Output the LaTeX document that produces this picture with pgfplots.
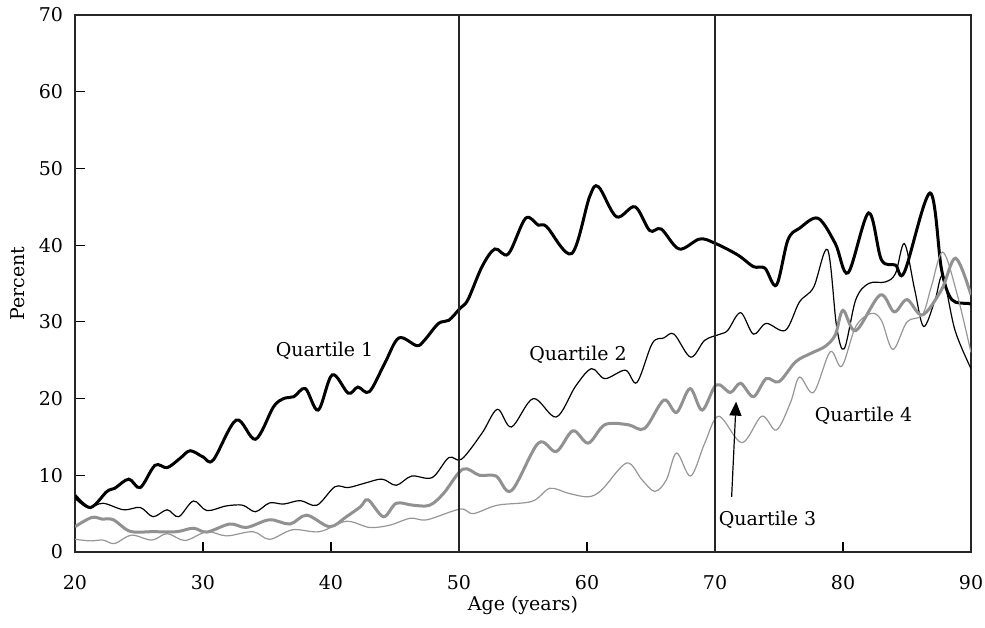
\documentclass[border=0pt]{standalone}
\usepackage{pgfplots}
\pgfplotsset{compat=1.18}
\usepackage{fontspec}
\setmainfont{DejaVu Serif}
\usetikzlibrary{arrows.meta}
\definecolor{qthree}{RGB}{145,145,145}
\definecolor{qfour}{RGB}{150,150,150}
\begin{document}
\fontsize{9.5pt}{11pt}\selectfont
\begin{tikzpicture}
\begin{axis}[
  scale only axis,
  width=448pt, height=268.5pt,
  xmin=20, xmax=90, ymin=0, ymax=70,
  xtick={20,30,...,90}, ytick={0,10,...,70},
  xtick pos=bottom, ytick pos=left,
  tick align=inside,
  major tick length=5pt,
  every tick/.style={black, line width=0.6pt},
  axis line style={draw=black!85, line width=0.7pt},
  /pgf/number format/assume math mode=true,
  yticklabel style={xshift=-2.6pt},
  xticklabel style={yshift=-8.3pt},
  xlabel={Age (years)},
  ylabel={Percent},
  xlabel style={at={(axis description cs:0.5,-0.0987)}, anchor=center},
  ylabel style={at={(axis description cs:-0.0636,0.5)}, anchor=center},
  clip=true,
]
% Quartile 1
\addplot[black, line width=1.5pt, smooth, tension=0.55] coordinates {
(20,7.4) (21.2,5.8) (22.5,7.9) (23.1,8.3) (24.2,9.5) (25.1,8.4) (26.25,11.3) (27.2,11.0) (28.2,12.2) (29.0,13.2) (30.0,12.4) (30.8,12.0) (32.6,17.2) (34.1,14.7) (35.5,18.9) (36.3,20.0) (37.1,20.25) (38.0,21.3) (39.0,18.5) (40.1,23.1) (41.35,20.7) (42.1,21.5) (43.0,20.9) (44.2,24.6) (45.3,27.9) (46.7,26.9) (47.3,27.6) (48.4,29.8) (49.2,30.2) (50.1,31.8) (50.7,32.9) (51.8,37.2) (52.8,39.5) (53.85,38.85) (55.2,43.5) (56.2,42.6) (56.85,42.4) (58.8,38.9) (60.2,46.3) (60.9,47.6) (62.3,43.7) (63.75,45.0) (64.9,41.9) (65.8,42.1) (67.2,39.5) (68.8,40.8) (70.0,40.25) (71.8,38.7) (73.0,37.2) (73.9,37.0) (74.8,34.8) (75.7,40.7) (76.6,42.2) (78.05,43.5) (79.4,40.2) (80.4,36.4) (82.0,44.2) (83.0,38.1) (84.1,37.4) (84.8,36.5) (86.8,46.8) (87.7,36.8) (88.5,32.9) (89.8,32.4) (90,32.3)
};
% Quartile 2
\addplot[black, line width=0.6pt, smooth, tension=0.55] coordinates {
(20,7.0) (21.0,5.8) (22.2,6.35) (23.8,5.5) (25.1,5.8) (26.1,4.6) (27.2,5.5) (28.1,4.6) (29.25,6.65) (30.3,5.4) (31.8,6.0) (33.1,6.1) (34.1,5.25) (35.2,6.4) (36.3,6.25) (37.6,6.7) (38.9,6.1) (40.3,8.5) (41.35,8.4) (42.7,9.0) (44.0,9.5) (45.1,8.7) (46.3,9.9) (47.9,9.7) (49.2,12.3) (50.2,12.1) (51.8,15.5) (53.0,18.6) (54.1,16.3) (55.8,20.0) (57.6,17.6) (59.1,21.6) (60.35,23.9) (61.4,22.6) (63.0,23.7) (63.9,22.1) (65.1,27.2) (66.0,27.9) (66.8,28.4) (68.1,25.4) (69.2,27.6) (70.4,28.4) (71.0,28.9) (72.0,31.2) (73.0,28.4) (74.0,29.8) (75.5,28.9) (76.6,32.6) (77.7,34.5) (78.8,39.4) (79.5,29.4) (80.1,26.5) (81.0,32.9) (82.0,35.0) (83.3,35.2) (84.1,36.3) (84.8,40.2) (85.6,34.2) (86.3,29.4) (87.2,32.9) (87.8,35.9) (88.75,28.9) (90,23.9)
};
% Quartile 3
\addplot[qthree, line width=1.5pt, smooth, tension=0.55] coordinates {
(20,3.3) (21.3,4.5) (22.1,4.3) (23.0,4.2) (24.3,2.7) (26.1,2.65) (27.95,2.65) (29.25,3.1) (30.3,2.6) (32.1,3.65) (33.4,3.2) (35.2,4.2) (36.8,3.65) (38.1,4.8) (39.9,3.3) (41.2,4.6) (42.3,5.9) (42.9,6.8) (44.1,4.6) (45.1,6.35) (46.4,6.1) (47.7,6.1) (48.8,7.65) (50.3,10.8) (51.6,10.0) (52.9,9.9) (54.1,8.0) (56.2,14.2) (57.6,13.1) (58.9,15.8) (60.1,14.2) (61.4,16.6) (63.2,16.6) (64.5,16.1) (66.0,19.8) (67.0,18.2) (68.05,21.3) (69.0,18.5) (70.1,21.8) (71.2,20.8) (72.0,22.0) (73.0,20.25) (74.0,22.6) (75.0,22.2) (76.3,24.8) (77.5,25.9) (78.6,26.8) (79.4,28.3) (80.0,31.5) (81.0,28.85) (82.9,33.5) (84.0,31.3) (85.0,32.9) (86.2,30.9) (87.7,34.2) (88.8,38.3) (90,33.5)
};
% Quartile 4
\addplot[qfour, line width=0.6pt, smooth, tension=0.55] coordinates {
(20,1.65) (21.2,1.45) (22.2,1.55) (23.1,1.1) (24.4,2.2) (26.0,1.55) (27.2,2.4) (28.6,1.5) (30.3,2.65) (31.85,2.1) (33.9,2.65) (35.2,1.65) (37.0,2.9) (39.1,2.65) (41.2,4.0) (43.0,3.2) (44.6,3.5) (46.2,4.4) (47.5,4.2) (50.1,5.6) (51.1,5.0) (53.0,6.1) (55.7,6.6) (57.1,8.3) (58.55,7.65) (60.1,7.2) (61.15,8.1) (63.1,11.6) (64.3,9.4) (65.3,7.9) (66.2,9.4) (67.0,12.9) (68.1,9.9) (69.2,14.2) (70.3,17.7) (72.1,14.25) (73.65,17.7) (74.8,15.9) (75.9,19.5) (76.6,22.8) (77.7,20.8) (79.0,26.1) (79.9,24.2) (81.0,29.4) (82.2,31.1) (83.0,30.2) (83.9,26.4) (85.0,30.0) (86.2,30.9) (86.9,34.6) (87.8,39.1) (88.9,33.7) (90,26.0)
};
% reference lines
\draw[black!85, line width=0.6pt] (axis cs:50,0) -- (axis cs:50,70);
\draw[black!85, line width=0.6pt] (axis cs:70,0) -- (axis cs:70,70);
% labels
\node at (axis cs:39.5,26.2) {Quartile 1};
\node at (axis cs:59.3,25.7) {Quartile 2};
\node at (axis cs:74.1,4.2) {Quartile 3};
\node at (axis cs:81.6,17.7) {Quartile 4};
\draw[black, line width=0.6pt, -{Triangle[length=7pt,width=6pt]}] (axis cs:71.3,7.2) -- (axis cs:71.65,19.6);
\end{axis}
\pgfresetboundingbox
\path (-37.5pt,-37.5pt) rectangle (455pt,276pt);
\end{tikzpicture}
\end{document}
